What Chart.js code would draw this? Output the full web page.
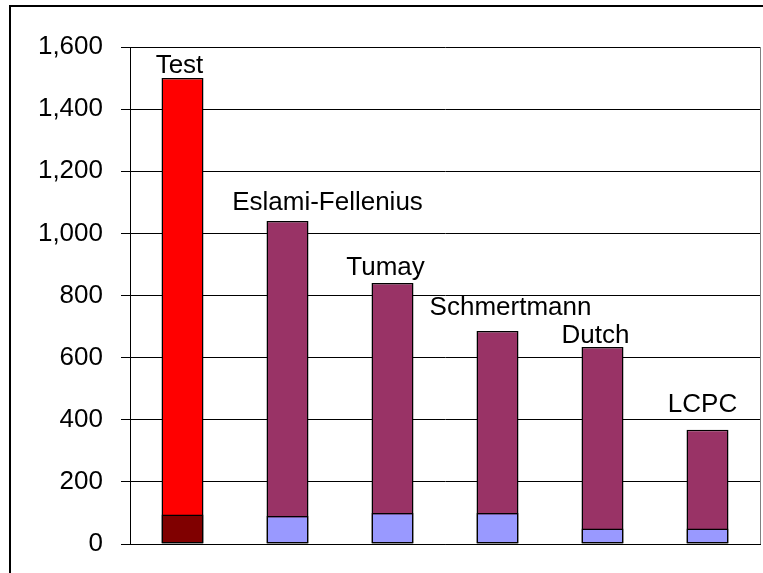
<!DOCTYPE html>
<html>
<head>
<meta charset="utf-8">
<script src="https://cdn.jsdelivr.net/npm/chart.js@4/dist/chart.umd.min.js"></script>
<style>
    html, body { margin: 0; padding: 0; background: #fff; }
    #wrap { width: 763px; height: 573px; position: relative; }
</style>
</head>
<body>
<div id="wrap"><canvas id="capacityChart" width="763" height="573"></canvas></div>
<script>
// --- DATA ---
const methods = ['Test', 'Eslami-Fellenius', 'Tumay', 'Schmertmann', 'Dutch', 'LCPC'];
const totalCapacity = [1500, 1040, 840, 686, 634, 368];
const baseCapacity = [95, 90, 100, 100, 50, 50];
const yTicks = [0, 200, 400, 600, 800, 1000, 1200, 1400, 1600];

// --- STYLE ---
const COLORS = {
    test: '#ff0000',
    testBase: '#800000',
    method: '#993366',
    methodBase: '#9999ff',
    frame: '#000000',
    plotRight: '#808080'
};
// label nudges (px) relative to the bar top centre
const labelNudge = [[-3, 5], [40, 11], [-7, 8], [13, 16], [-7, 4], [-5, 18]];
const FONT = 'Liberation Sans, Arial, sans-serif';

const topColors = methods.map((m, i) => i === 0 ? COLORS.test : COLORS.method);
const baseColors = methods.map((m, i) => i === 0 ? COLORS.testBase : COLORS.methodBase);

// frame round the whole chart + grey right edge of plot
const framePlugin = {
    id: 'frame',
    afterDraw(chart) {
        const ctx = chart.ctx;
        const a = chart.chartArea;
        ctx.save();
        ctx.strokeStyle = COLORS.plotRight;
        ctx.lineWidth = 1;
        ctx.beginPath();
        ctx.moveTo(a.right + 0.5, a.top);
        ctx.lineTo(a.right + 0.5, a.bottom);
        ctx.stroke();
        ctx.strokeStyle = COLORS.frame;
        ctx.lineWidth = 2;
        ctx.strokeRect(10, 6, 900, 700);
        ctx.restore();
    }
};

// method names above each bar
const namePlugin = {
    id: 'names',
    afterDatasetsDraw(chart) {
        const ctx = chart.ctx;
        const meta = chart.getDatasetMeta(0);
        const y = chart.scales.y;
        ctx.save();
        ctx.font = '26px ' + FONT;
        ctx.fillStyle = '#000';
        ctx.textAlign = 'center';
        ctx.textBaseline = 'alphabetic';
        methods.forEach((name, i) => {
            const bar = meta.data[i];
            const top = y.getPixelForValue(totalCapacity[i]);
            ctx.fillText(name, bar.x + labelNudge[i][0], top - labelNudge[i][1]);
        });
        ctx.restore();
    }
};

new Chart(document.getElementById('capacityChart').getContext('2d'), {
    type: 'bar',
    data: {
        labels: methods,
        datasets: [
            {
                label: 'Total',
                data: totalCapacity,
                backgroundColor: topColors,
                borderColor: '#000',
                borderWidth: 1.5,
                borderSkipped: false,
                order: 1
            },
            {
                label: 'Base',
                data: baseCapacity,
                backgroundColor: baseColors,
                borderColor: '#000',
                borderWidth: 1.5,
                borderSkipped: false,
                order: 0
            }
        ]
    },
    options: {
        responsive: false,
        animation: false,
        grouped: false,
        categoryPercentage: 1,
        barPercentage: 0.4,
        layout: { padding: { left: 0, top: 47, right: 3, bottom: 29 } },
        plugins: {
            legend: { display: false },
            tooltip: { enabled: false }
        },
        scales: {
            x: {
                grid: { display: false, drawTicks: false },
                border: { color: '#000', width: 1 },
                ticks: { display: false },
                afterFit(scale) { scale.height = 0; }
            },
            y: {
                min: 0,
                max: 1600,
                afterBuildTicks(scale) { scale.ticks = yTicks.map(v => ({ value: v })); },
                afterFit(scale) {
                    scale.width = 130;
                    scale.paddingTop = 0;
                    scale.paddingBottom = 0;
                },
                grid: { color: '#000', lineWidth: 1, tickLength: 9, drawTicks: true },
                border: { color: '#000', width: 1 },
                ticks: {
                    padding: 18,
                    color: '#000',
                    font: { family: FONT, size: 26 },
                    callback: v => v.toLocaleString('en-US')
                }
            }
        }
    },
    plugins: [framePlugin, namePlugin]
});
</script>
</body>
</html>
